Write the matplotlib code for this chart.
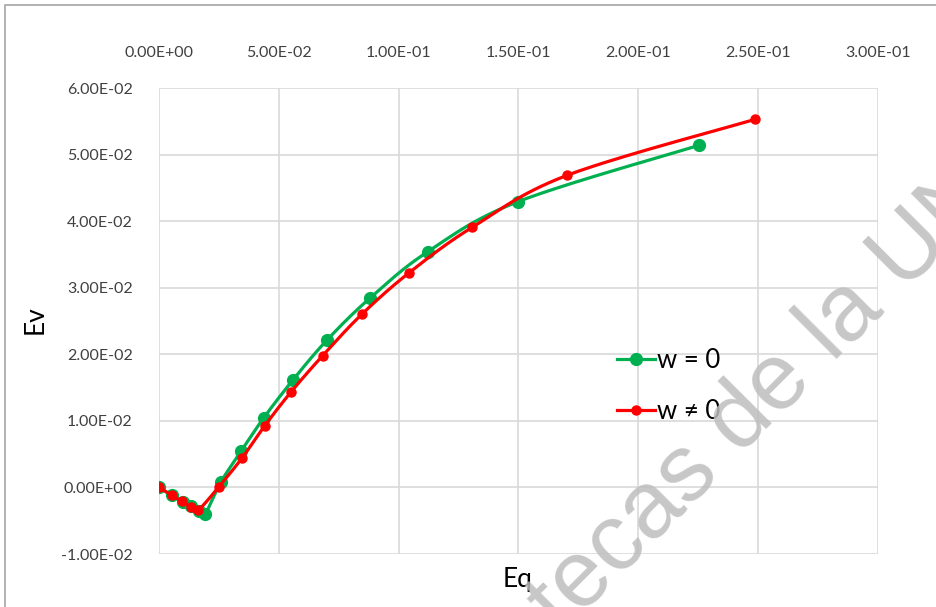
import numpy as np
import matplotlib
matplotlib.use("Agg")
import matplotlib.pyplot as plt
from matplotlib.patches import Rectangle

# Series read as (Eq, Ev) pairs
eq_w0 = [0.0, 0.0054, 0.0100, 0.0133, 0.0167, 0.0192, 0.0258, 0.0342, 0.0438,
         0.0558, 0.0700, 0.0879, 0.1121, 0.1496, 0.2254]
ev_w0 = [0.0, -0.0012, -0.0022, -0.0028, -0.0035, -0.0040, 0.0008, 0.0054, 0.0105,
         0.0161, 0.0221, 0.0284, 0.0354, 0.0429, 0.0514]

eq_wn = [0.0, 0.0054, 0.0096, 0.0133, 0.0163, 0.0250, 0.0346, 0.0442,
         0.0550, 0.0683, 0.0846, 0.1042, 0.1308, 0.1704, 0.2488]
ev_wn = [0.0, -0.0012, -0.0021, -0.0029, -0.0034, 0.0001, 0.0044, 0.0093,
         0.0143, 0.0198, 0.0260, 0.0322, 0.0391, 0.0469, 0.0553]

x_ticks = [0.0, 0.05, 0.10, 0.15, 0.20, 0.25, 0.30]
y_ticks = [-0.01, 0.0, 0.01, 0.02, 0.03, 0.04, 0.05, 0.06]

GREEN = "#00B050"
RED = "#FF0000"
GRID = "#D9D9D9"
FONT = ["Lato", "DejaVu Sans"]


def smooth(xs, ys, n=30):
    """Catmull-Rom style smoothing through the given points."""
    p = np.column_stack([xs, ys]).astype(float)
    pts = np.vstack([p[0], p, p[-1]])
    out = []
    t = np.linspace(0, 1, n)[:, None]
    for i in range(1, len(pts) - 2):
        p0, p1, p2, p3 = pts[i - 1], pts[i], pts[i + 1], pts[i + 2]
        c1 = p1 + (p2 - p0) / 6.0
        c2 = p2 - (p3 - p1) / 6.0
        seg = ((1 - t) ** 3) * p1 + 3 * ((1 - t) ** 2) * t * c1 + 3 * (1 - t) * t ** 2 * c2 + t ** 3 * p2
        out.append(seg if i == 1 else seg[1:])
    s = np.vstack(out)
    return s[:, 0], s[:, 1]


W, H = 937, 607
fig = plt.figure(figsize=(W / 100, H / 100), dpi=100)
fig.patch.set_facecolor("white")

# outer chart frame
fig.add_artist(Rectangle((5 / W, -0.1), 1.2, 1 - 5 / H + 0.1, transform=fig.transFigure,
                         fill=False, edgecolor="#A6A6A6", linewidth=1.2))

left, right, top, bottom = 159, 878, 88, 554
ax = fig.add_axes([left / W, 1 - bottom / H, (right - left) / W, (bottom - top) / H])
ax.set_xlim(x_ticks[0], x_ticks[-1])
ax.set_ylim(y_ticks[0], y_ticks[-1])
ax.set_xticks(x_ticks)
ax.set_yticks(y_ticks)
ax.set_xticklabels([f"{v:.2E}" for v in x_ticks], family=FONT, fontsize=11.5, color="#404040")
ax.set_yticklabels([f"{v:.2E}" for v in y_ticks], family=FONT, fontsize=11.5, color="#404040")
ax.xaxis.tick_top()
ax.tick_params(axis="both", length=0)
ax.tick_params(axis="x", pad=20)
ax.tick_params(axis="y", pad=19)
for s in ax.spines.values():
    s.set_visible(False)
ax.grid(True, color=GRID, linewidth=1.2)
ax.set_axisbelow(True)

gx, gy = smooth(eq_w0, ev_w0)
rx, ry = smooth(eq_wn, ev_wn)
ax.plot(gx, gy, color=GREEN, lw=2.3, zorder=3)
ax.plot(eq_w0, ev_w0, ls="none", marker="o", ms=8.5, color=GREEN, zorder=4)
ax.plot(rx, ry, color=RED, lw=2.3, zorder=5)
ax.plot(eq_wn, ev_wn, ls="none", marker="o", ms=6.5, color=RED, zorder=6)

# legend entries
h1, = ax.plot([], [], color=GREEN, lw=2.3, marker="o", ms=8.5)
h2, = ax.plot([], [], color=RED, lw=2.3, marker="o", ms=6.5)
leg = ax.legend([h1, h2], ["w = 0", "w \u2260 0"], loc="upper left",
                bbox_to_anchor=((604 - left) / (right - left), (bottom - 335) / (bottom - top)),
                frameon=False, prop={"family": FONT, "size": 18.5}, handlelength=1.5,
                handletextpad=0.05, labelspacing=1.0, borderpad=0)

fig.text(35 / W, 1 - 320 / H, "Ev", family=FONT, fontsize=19, rotation=90,
         ha="center", va="center")
fig.text(518 / W, 1 - 580 / H, "Eq", family=FONT, fontsize=19, ha="center", va="center")

# faint library watermark across the chart
fig.text(398 / W, 1 - 798 / H, "Bibliotecas de la UNAM", family=["Liberation Sans", "DejaVu Sans"],
         fontsize=68, color="#BDBDBD", alpha=0.85, rotation=45, rotation_mode="anchor",
         ha="left", va="baseline", zorder=20)

fig.savefig("out.png", dpi=100)
